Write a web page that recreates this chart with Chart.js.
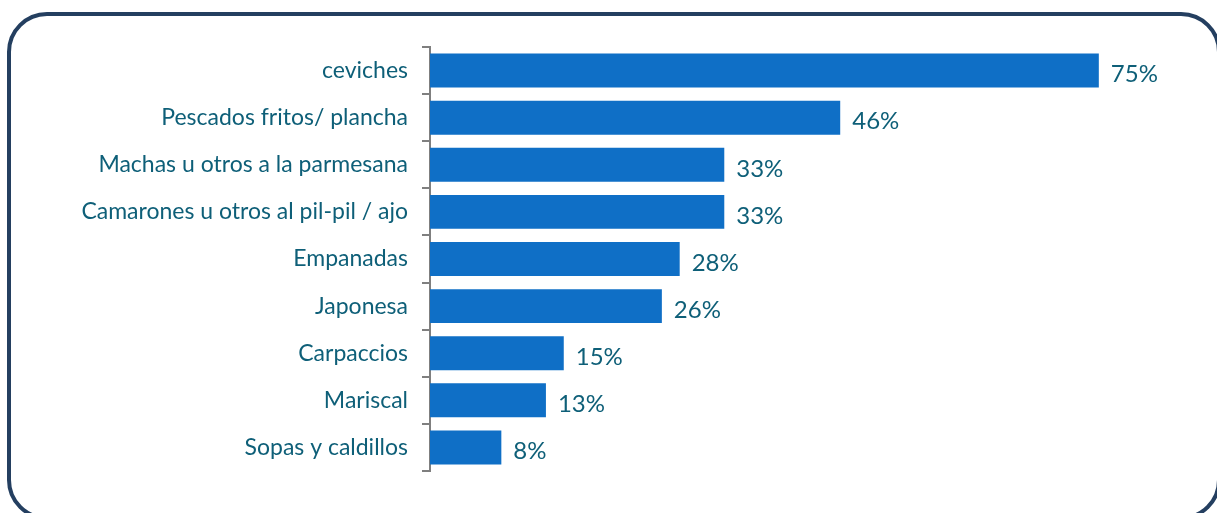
<!DOCTYPE html>
<html>
<head>
<meta charset="utf-8">
<script src="https://cdn.jsdelivr.net/npm/chart.js@4.4.1/dist/chart.umd.min.js"></script>
<style>
  html, body { margin: 0; padding: 0; background: #ffffff; overflow: hidden; }
  #wrap { position: relative; width: 1217px; height: 513px; overflow: hidden; }
  #frame {
    position: absolute; left: 7px; top: 12px; width: 1214px; height: 508px;
    border: 4px solid #243f60; border-radius: 40px; box-sizing: border-box;
  }
  canvas { position: absolute; left: 0; top: 0; }
</style>
</head>
<body>
<div id="wrap">
  <div id="frame"></div>
  <canvas id="c" width="1217" height="513"></canvas>
</div>
<script>
const categories = [
  "ceviches",
  "Pescados fritos/ plancha",
  "Machas u otros a la parmesana",
  "Camarones u otros al pil-pil / ajo",
  "Empanadas",
  "Japonesa",
  "Carpaccios",
  "Mariscal",
  "Sopas y caldillos"
];
const values = [75, 46, 33, 33, 28, 26, 15, 13, 8];
const labelSuffix = "%";

const textColor = "#0e5f78";
const barColor = "#0f6fc6";
const fontFamily = "Lato, 'Open Sans', sans-serif";

const valueLabels = {
  id: "valueLabels",
  afterDatasetsDraw(chart) {
    const ctx = chart.ctx;
    const meta = chart.getDatasetMeta(0);
    ctx.save();
    ctx.fillStyle = textColor;
    ctx.font = "24px " + fontFamily;
    ctx.textAlign = "left";
    ctx.textBaseline = "middle";
    meta.data.forEach((bar, i) => {
      ctx.fillText(values[i] + labelSuffix, bar.x + 12, bar.y + 4);
    });
    ctx.restore();
  }
};

new Chart(document.getElementById("c"), {
  type: "bar",
  data: {
    labels: categories,
    datasets: [{
      data: values,
      backgroundColor: barColor,
      borderWidth: 0,
      categoryPercentage: 1,
      barPercentage: 0.72
    }]
  },
  options: {
    indexAxis: "y",
    responsive: false,
    animation: false,
    layout: { padding: { top: 47, bottom: 42, right: 29, left: 0 } },
    plugins: { legend: { display: false }, tooltip: { enabled: false } },
    scales: {
      x: { display: false, min: 0, max: 85 },
      y: {
        afterFit(scale) { scale.width = 430; },
        grid: { display: true, drawOnChartArea: false, tickLength: 8, color: "#7f7f7f", lineWidth: 2, offset: true },
        border: { display: true, color: "#7f7f7f", width: 2 },
        ticks: { color: textColor, padding: 14, font: { family: fontFamily, size: 23 } }
      }
    }
  },
  plugins: [valueLabels]
});
</script>
</body>
</html>
